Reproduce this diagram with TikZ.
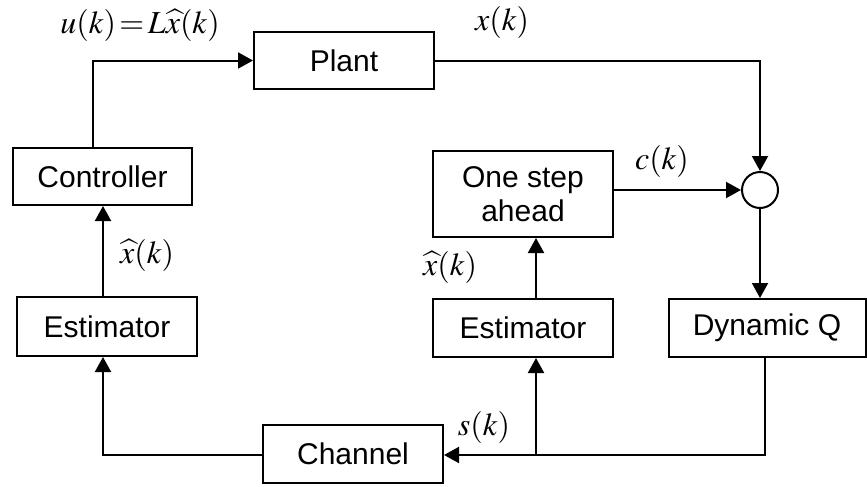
\documentclass[tikz,border=0pt]{standalone}
\usepackage{mathptmx}
\usepackage[no-math]{fontspec}
\setmainfont{Liberation Sans}
\usetikzlibrary{arrows.meta,positioning,calc}
\tikzset{
  blk/.style={draw,line width=1pt,minimum width=#1*0.5pt,inner sep=0pt,align=center,font=\fontsize{15}{17}\selectfont},
  arr/.style={line width=1pt,-{Triangle[length=7.5pt,width=8pt]}},
  lbl/.style={font=\fontsize{16}{18}\selectfont,inner sep=0pt}
}
\begin{document}
\begin{tikzpicture}[x=0.5pt,y=-0.5pt]
\useasboundingbox (0,0) rectangle (867,487);
\node[blk=180,minimum height=28.5pt] (plant) at (344,60.5) {Plant};
\node[blk=179,minimum height=28.5pt] (ctrl) at (102.5,176.5) {Controller};
\node[blk=180,minimum height=29.5pt] (estl) at (107,326.5) {Estimator};
\node[blk=180,minimum height=29pt] (chan) at (353,454) {Channel};
\node[blk=180,minimum height=29pt] (estr) at (523,328) {Estimator};
\node[blk=180,minimum height=43pt] (osa) at (523,194) {One step\\ahead};
\node[blk=197,minimum height=29pt] (dq) at (767,328) {Dynamic Q};
\node[draw,line width=1pt,circle,minimum size=18pt,inner sep=0pt] (circ) at (760,190) {};

\coordinate (cu) at (93,0);
\coordinate (cl) at (103,0);
\coordinate (cr) at (536,0);
\coordinate (cd) at (765,0);
\coordinate (bot) at (0,455);

\draw[arr] (ctrl.north -| cu) |- (plant.west);
\draw[arr] (plant.east) -| (circ.north);
\draw[arr] (osa.east |- circ.west) -- (circ.west);
\draw[arr] (circ.south) -- (circ.south |- dq.north);
\draw[arr] (dq.south -| cd) |- (chan.east |- bot);
\draw[arr] (cr |- bot) -- (estr.south -| cr);
\draw[arr] (estr.north -| cr) -- (osa.south -| cr);
\draw[arr] (chan.west |- bot) -| (estl.south -| cl);
\draw[arr] (estl.north -| cl) -- (ctrl.south -| cl);

\node[lbl] (lu) at (140,25) {$u(k)\,{=}\,L\widehat{x}(k)$};
\node[lbl] (lx) at (502,22) {$x(k)$};
\node[lbl] (lc) at (662,161) {$c(k)$};
\node[lbl] (lxl) at (147,255) {$\widehat{x}(k)$};
\node[lbl] (lxr) at (450,267) {$\widehat{x}(k)$};
\node[lbl] (ls) at (484,427) {$s(k)$};
\end{tikzpicture}
\end{document}
